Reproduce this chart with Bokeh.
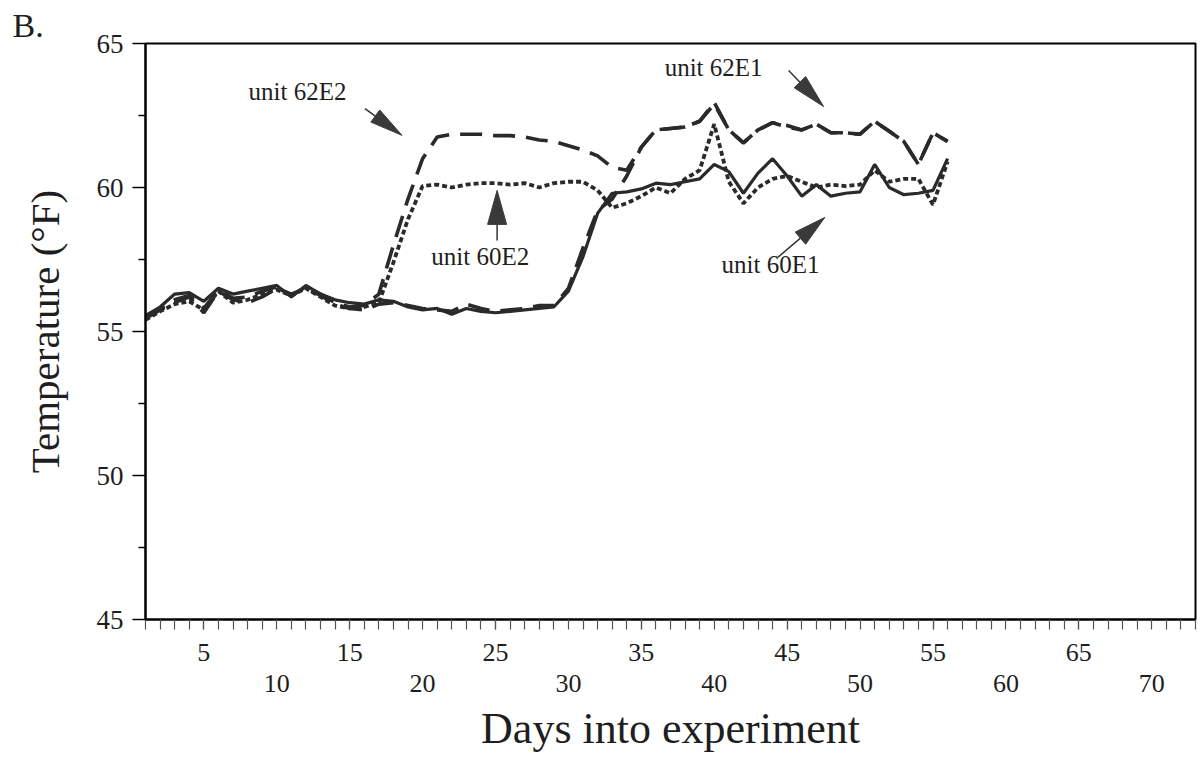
import math
from bokeh.plotting import figure
from bokeh.models import Range1d, LinearAxis, FixedTicker, Label, ColumnDataSource, Title
from bokeh.embed import file_html
from bokeh.resources import INLINE

# ---------------- data ----------------
days = list(range(1, 57))

unit_60E1 = [55.55, 55.85, 56.3, 56.35, 56.05, 56.5, 56.3, 56.4, 56.5, 56.6,
             56.2, 56.6, 56.3, 56.1, 56.0, 55.95, 56.1, 56.05, 55.85, 55.75,
             55.8, 55.6, 55.8, 55.7, 55.65, 55.7, 55.75, 55.8, 55.85, 56.4,
             57.6, 59.1, 59.8, 59.85, 59.95, 60.15, 60.1, 60.2, 60.3, 60.8,
             60.55, 59.8, 60.5, 61.0, 60.4, 59.7, 60.1, 59.7, 59.8, 59.85,
             60.8, 60.0, 59.75, 59.8, 59.9, 61.0]

unit_60E2 = [55.4, 55.7, 55.95, 56.05, 55.75, 56.4, 56.0, 56.1, 56.3, 56.45,
             56.25, 56.5, 56.2, 55.9, 55.8, 55.85, 56.0, 57.4, 58.9, 60.05,
             60.1, 60.0, 60.1, 60.15, 60.15, 60.1, 60.15, 60.0, 60.15, 60.2,
             60.2, 59.9, 59.3, 59.45, 59.7, 60.0, 59.8, 60.3, 60.6, 62.2,
             60.2, 59.45, 60.0, 60.3, 60.4, 60.2, 60.0, 60.1, 60.05, 60.1,
             60.6, 60.2, 60.3, 60.3, 59.4, 60.9]

unit_62E1 = [55.45, 55.75, 56.0, 56.2, 55.65, 56.4, 56.1, 56.0, 56.2, 56.5,
             56.3, 56.5, 56.25, 55.95, 55.8, 55.75, 55.95, 56.0, 55.9, 55.8,
             55.75, 55.7, 55.95, 55.8, 55.7, 55.75, 55.8, 55.9, 55.9, 56.5,
             57.9, 59.2, 59.6, 60.4, 61.4, 62.0, 62.05, 62.1, 62.3, 62.95,
             62.0, 61.55, 62.0, 62.25, 62.15, 62.0, 62.2, 61.9, 61.9, 61.85,
             62.3, 61.95, 61.6, 60.8, 61.9, 61.6]

unit_62E2 = [55.5, 55.8, 56.1, 56.25, 55.8, 56.45, 56.15, 56.2, 56.4, 56.55,
             56.25, 56.55, 56.3, 56.0, 55.85, 55.9, 56.3, 58.0, 59.6, 61.0,
             61.75, 61.85, 61.85, 61.85, 61.8, 61.8, 61.75, 61.65, 61.6, 61.45,
             61.3, 61.1, 60.7, 60.6, 61.4, 62.0, 62.05, 62.1, 62.3, 62.9,
             62.0, 61.55, 62.0, 62.25, 62.1, 62.0, 62.2, 61.9, 61.9, 61.85,
             62.3, 61.95, 61.6, 60.8, 61.9, 61.6]

x_ticks_upper = [5, 15, 25, 35, 45, 55, 65]
x_ticks_lower = [10, 20, 30, 40, 50, 60, 70]
y_ticks = [45, 50, 55, 60, 65]
y_minor = [47.5, 52.5, 57.5, 62.5]

# ---------------- figure ----------------
FONT = "Liberation Serif"
INK = "#2a2a2a"
TXT = "#1e1e1e"
W, H = 1200, 755
BL, BR, BT, BB = 145, 5, 43, 136
X0, X1, Y0, Y1 = 1, 73, 45, 65

p = figure(width=W, height=H, x_range=Range1d(X0, X1), y_range=Range1d(Y0, Y1),
           output_backend="svg", toolbar_location=None, x_axis_type=None,
           min_border_left=BL, min_border_right=BR, min_border_top=BT,
           min_border_bottom=BB)
p.xgrid.visible = False
p.ygrid.visible = False
p.outline_line_color = "black"
p.outline_line_width = 2
p.background_fill_color = "white"
p.border_fill_color = "white"

# panel label "B."
p.add_layout(Title(text="B.", align="left", offset=-133, standoff=0,
                   text_font=FONT, text_font_size="34px", text_font_style="normal",
                   text_color=TXT), "above")

# y axis
ya = p.yaxis[0]
ya.ticker = FixedTicker(ticks=y_ticks, minor_ticks=y_minor)
ya.axis_line_color = "black"
ya.axis_line_width = 2
ya.major_tick_out = 13
ya.major_tick_in = 0
ya.minor_tick_out = 7
ya.minor_tick_in = 0
ya.major_tick_line_color = "black"
ya.minor_tick_line_color = "black"
ya.major_tick_line_width = 1.5
ya.minor_tick_line_width = 1.5
ya.major_label_text_font = FONT
ya.major_label_text_font_size = "27px"
ya.major_label_text_color = TXT
ya.major_label_standoff = 9
ya.axis_label = "Temperature (°F)"
ya.axis_label_text_font = FONT
ya.axis_label_text_font_size = "41px"
ya.axis_label_text_font_style = "normal"
ya.axis_label_text_color = TXT
ya.axis_label_standoff = 26

# x axis, upper row of labels + daily ticks
xa1 = LinearAxis(ticker=FixedTicker(ticks=x_ticks_upper, minor_ticks=list(range(X0, X1 + 1))))
xa1.axis_line_color = "black"
xa1.axis_line_width = 2
xa1.major_tick_out = 10
xa1.major_tick_in = 0
xa1.minor_tick_out = 10
xa1.minor_tick_in = 0
xa1.major_tick_line_color = "#555"
xa1.minor_tick_line_color = "#555"
xa1.major_tick_line_width = 1.2
xa1.minor_tick_line_width = 1.2
xa1.major_label_text_font = FONT
xa1.major_label_text_font_size = "26px"
xa1.major_label_text_color = TXT
xa1.major_label_standoff = 14
p.add_layout(xa1, "below")

# x axis, lower row of labels + title
xa2 = LinearAxis(ticker=FixedTicker(ticks=x_ticks_lower, minor_ticks=[]))
xa2.axis_line_color = None
xa2.major_tick_line_color = None
xa2.minor_tick_line_color = None
xa2.major_tick_out = 0
xa2.major_tick_in = 0
xa2.minor_tick_out = 0
xa2.minor_tick_in = 0
xa2.major_label_text_font = FONT
xa2.major_label_text_font_size = "26px"
xa2.major_label_text_color = TXT
xa2.major_label_standoff = 11
xa2.axis_label = "Days into experiment"
xa2.axis_label_text_font = FONT
xa2.axis_label_text_font_size = "44px"
xa2.axis_label_text_font_style = "normal"
xa2.axis_label_text_color = TXT
xa2.axis_label_standoff = 9
p.add_layout(xa2, "below")

# ---------------- series ----------------
src = ColumnDataSource(dict(day=days, e60_1=unit_60E1, e60_2=unit_60E2,
                            e62_1=unit_62E1, e62_2=unit_62E2))
p.line("day", "e62_1", source=src, line_color=INK, line_width=3.6, line_dash="22 11")
p.line("day", "e62_2", source=src, line_color=INK, line_width=3.6, line_dash="22 11")
p.line("day", "e60_2", source=src, line_color=INK, line_width=3.8, line_dash="5 3")
p.line("day", "e60_1", source=src, line_color=INK, line_width=3.2)

# ---------------- annotations ----------------
PXX = (W - BL - BR) / (X1 - X0)
PXY = (H - BT - BB) / (Y1 - Y0)

def add_arrow(tail, tip, L=32, Wd=16):
    dx = (tip[0] - tail[0]) * PXX
    dy = (tip[1] - tail[1]) * PXY
    n = math.hypot(dx, dy)
    ux, uy = dx / n, dy / n
    bx, by = -L * ux, -L * uy
    px, py = -uy * Wd / 2, ux * Wd / 2
    xs = [tip[0], tip[0] + (bx + px) / PXX, tip[0] + (bx - px) / PXX]
    ys = [tip[1], tip[1] + (by + py) / PXY, tip[1] + (by - py) / PXY]
    p.line([tail[0], tip[0] + bx / PXX], [tail[1], tip[1] + by / PXY],
           line_color="#333", line_width=1.5)
    p.patch(xs, ys, fill_color="#3a3a3a", line_color="#3a3a3a", line_width=1)

labels = [("unit  62E2", 8.07, 63.35), ("unit 60E2", 20.6, 57.6),
          ("unit  62E1", 36.6, 64.15), ("unit 60E1", 40.5, 57.33)]
for txt, lx, ly in labels:
    p.add_layout(Label(x=lx, y=ly, text=txt, text_font=FONT, text_font_size="25px",
                       text_baseline="middle", text_align="left", text_color=TXT))

add_arrow((16.05, 62.74), (18.59, 61.81), L=33, Wd=15)
add_arrow((25.11, 58.16), (25.11, 59.9), L=34, Wd=19)
add_arrow((45.1, 64.06), (47.5, 62.81), L=34, Wd=16)
add_arrow((44.35, 57.57), (47.58, 58.96), L=32, Wd=16)

open("out.html", "w").write(file_html(p, INLINE))
